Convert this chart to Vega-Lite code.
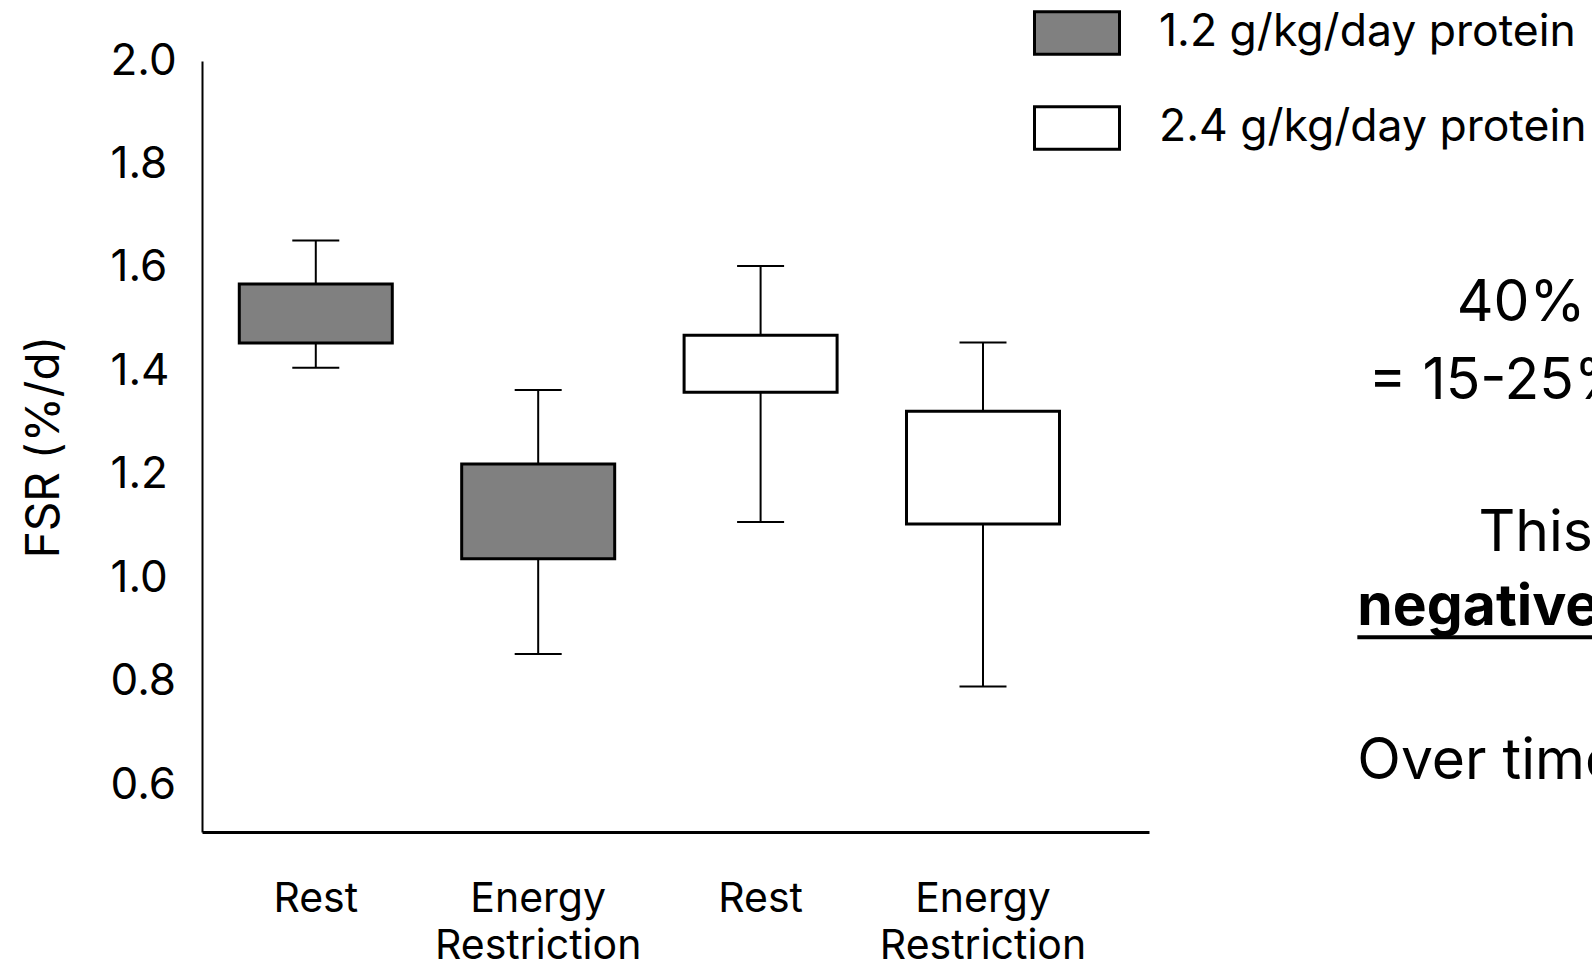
{
  "$schema": "https://vega.github.io/schema/vega-lite/v6.json",
  "width": 947,
  "height": 771,
  "autosize": {"type": "none"},
  "padding": {"left": 202, "top": 61, "right": 443, "bottom": 133},
  "background": "white",
  "config": {
    "view": {"stroke": null},
    "font": "Inter",
    "axis": {
      "labelFont": "Inter",
      "titleFont": "Inter",
      "labelColor": "black",
      "titleColor": "black",
      "grid": false,
      "ticks": false,
      "tickSize": 0,
      "domainColor": "black",
      "labelLimit": 1000,
      "labelOverlap": false
    },
    "text": {"font": "Inter", "fontSize": 57, "color": "black", "align": "left", "baseline": "alphabetic"}
  },
  "datasets": {
    "boxes": [
      {"slot": "1.2 Rest", "protein": "1.2 g/kg/day protein", "lo": 1.407, "q1": 1.455, "q3": 1.569, "hi": 1.653},
      {"slot": "1.2 Energy Restriction", "protein": "1.2 g/kg/day protein", "lo": 0.854, "q1": 1.038, "q3": 1.221, "hi": 1.364},
      {"slot": "2.4 Rest", "protein": "2.4 g/kg/day protein", "lo": 1.109, "q1": 1.36, "q3": 1.47, "hi": 1.604},
      {"slot": "2.4 Energy Restriction", "protein": "2.4 g/kg/day protein", "lo": 0.791, "q1": 1.105, "q3": 1.323, "hi": 1.456}
    ]
  },
  "layer": [
    {
      "data": {"name": "boxes"},
      "encoding": {
        "x": {
          "field": "slot",
          "type": "nominal",
          "sort": ["1.2 Rest", "1.2 Energy Restriction", "2.4 Rest", "2.4 Energy Restriction"],
          "scale": {"paddingInner": 0, "paddingOuter": 0.129, "align": 0.045},
          "title": null,
          "axis": {
            "labelExpr": "slice(split(datum.label, ' '), 1)",
            "labelAngle": 0,
            "labelFontSize": 41,
            "labelPadding": 47,
            "labelLineHeight": 47,
            "labelBaseline": "top",
            "domainWidth": 3
          }
        }
      },
      "layer": [
        {
          "mark": {"type": "rule", "strokeWidth": 2, "color": "black"},
          "encoding": {
            "y": {
              "field": "lo",
              "type": "quantitative",
              "title": "FSR (%/d)",
              "scale": {"domain": [0.51, 2.0], "nice": false, "zero": false},
              "axis": {
                "values": [0.6, 0.8, 1.0, 1.2, 1.4, 1.6, 1.8, 2.0],
                "format": ".1f",
                "labelAlign": "left",
                "labelPadding": 92,
                "labelFontSize": 44,
                "titleFontSize": 46,
                "titleFontWeight": "normal",
                "titlePadding": 42,
                "domainWidth": 2
              }
            },
            "y2": {"field": "hi"}
          }
        },
        {
          "mark": {"type": "tick", "size": 47, "thickness": 2, "color": "black", "opacity": 1},
          "encoding": {
            "y": {"field": "hi", "type": "quantitative", "title": "FSR (%/d)", "scale": {"domain": [0.51, 2.0], "nice": false, "zero": false}}
          }
        },
        {
          "mark": {"type": "tick", "size": 47, "thickness": 2, "color": "black", "opacity": 1},
          "encoding": {
            "y": {"field": "lo", "type": "quantitative", "title": "FSR (%/d)", "scale": {"domain": [0.51, 2.0], "nice": false, "zero": false}}
          }
        },
        {
          "mark": {"type": "bar", "width": 153, "stroke": "black", "strokeWidth": 3, "opacity": 1},
          "encoding": {
            "y": {"field": "q1", "type": "quantitative", "title": "FSR (%/d)", "scale": {"domain": [0.51, 2.0], "nice": false, "zero": false}},
            "y2": {"field": "q3"},
            "fill": {
              "field": "protein",
              "type": "nominal",
              "scale": {"domain": ["1.2 g/kg/day protein", "2.4 g/kg/day protein"], "range": ["#808080", "#ffffff"]},
              "legend": {
                "title": null,
                "orient": "none",
                "legendX": 831,
                "legendY": -72,
                "padding": 0,
                "symbolType": "M-1,-0.5H1V0.5H-1Z",
                "symbolSize": 7225,
                "symbolStrokeColor": "black",
                "symbolStrokeWidth": 3,
                "symbolOpacity": 1,
                "labelFont": "Inter",
                "labelFontSize": 44.5,
                "labelColor": "black",
                "labelOffset": 38,
                "labelLimit": 1000,
                "rowPadding": 23
              }
            }
          }
        }
      ]
    },
    {
      "data": {"values": [{}]},
      "layer": [
        {
          "mark": {"type": "text", "text": "40%"},
          "encoding": {
            "x": {"datum": 1.325, "type": "quantitative", "scale": {"domain": [0, 1], "nice": false, "zero": false}, "axis": null},
            "y": {"datum": 1.497, "type": "quantitative", "title": "FSR (%/d)", "scale": {"domain": [0.51, 2.0], "nice": false, "zero": false}}
          }
        },
        {
          "mark": {"type": "text", "text": "= 15-25%"},
          "encoding": {
            "x": {"datum": 1.232, "type": "quantitative", "scale": {"domain": [0, 1], "nice": false, "zero": false}, "axis": null},
            "y": {"datum": 1.347, "type": "quantitative", "title": "FSR (%/d)", "scale": {"domain": [0.51, 2.0], "nice": false, "zero": false}}
          }
        },
        {
          "mark": {"type": "text", "text": "This"},
          "encoding": {
            "x": {"datum": 1.348, "type": "quantitative", "scale": {"domain": [0, 1], "nice": false, "zero": false}, "axis": null},
            "y": {"datum": 1.053, "type": "quantitative", "title": "FSR (%/d)", "scale": {"domain": [0.51, 2.0], "nice": false, "zero": false}}
          }
        },
        {
          "mark": {"type": "text", "text": "negative", "fontWeight": "bold"},
          "encoding": {
            "x": {"datum": 1.22, "type": "quantitative", "scale": {"domain": [0, 1], "nice": false, "zero": false}, "axis": null},
            "y": {"datum": 0.911, "type": "quantitative", "title": "FSR (%/d)", "scale": {"domain": [0.51, 2.0], "nice": false, "zero": false}}
          }
        },
        {
          "mark": {"type": "rule", "strokeWidth": 4, "color": "black"},
          "encoding": {
            "x": {"datum": 1.22, "type": "quantitative", "scale": {"domain": [0, 1], "nice": false, "zero": false}, "axis": null},
            "x2": {"datum": 1.5},
            "y": {"datum": 0.8865, "type": "quantitative", "title": "FSR (%/d)", "scale": {"domain": [0.51, 2.0], "nice": false, "zero": false}}
          }
        },
        {
          "mark": {"type": "text", "text": "Over time"},
          "encoding": {
            "x": {"datum": 1.22, "type": "quantitative", "scale": {"domain": [0, 1], "nice": false, "zero": false}, "axis": null},
            "y": {"datum": 0.612, "type": "quantitative", "title": "FSR (%/d)", "scale": {"domain": [0.51, 2.0], "nice": false, "zero": false}}
          }
        }
      ]
    }
  ],
  "resolve": {"scale": {"x": "independent"}}
}
